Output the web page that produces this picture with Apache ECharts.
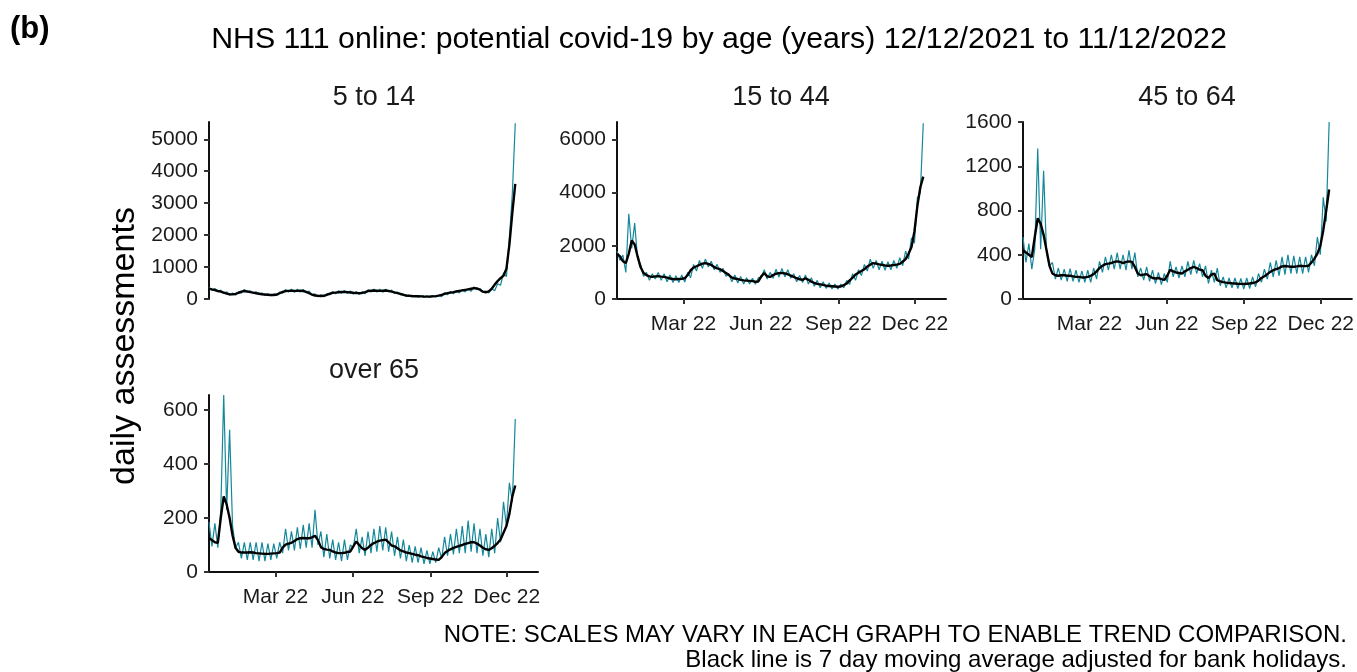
<!DOCTYPE html>
<html>
<head>
<meta charset="utf-8">
<script src="https://cdn.jsdelivr.net/npm/echarts@6/dist/echarts.min.js"></script>
<style>
  html, body { margin: 0; padding: 0; background: #fff; }
  #chart { width: 1357px; height: 672px; }
</style>
</head>
<body>
<div id="chart"></div>
<script>
// days between stored points, first point = 12/12/2021, last = 11/12/2022
var STEP = 3.5;
var tickDays = [79, 171, 263, 354];
var tickLabels = ["Mar 22", "Jun 22", "Sep 22", "Dec 22"];
var panelNames = ["5 to 14", "15 to 44", "45 to 64", "over 65"];

// 5 to 14
var p1Daily = [
  360,270,330,230,280,170,230,120,190,120,
  230,180,300,200,260,170,230,140,190,110,
  170,100,160,110,220,180,300,220,310,210,
  310,220,300,200,250,130,160,70,130,70,
  170,130,240,160,260,180,270,170,250,150,
  230,140,230,160,290,220,310,220,310,210,
  310,220,280,170,220,130,160,80,120,60,
  110,60,100,55,100,55,105,60,120,70,
  200,130,240,160,260,190,290,220,330,240,
  380,290,330,220,250,190,320,260,480,430,
  820,700,1900,3300,5500
];
var p1Avg = [
  325,300,280,250,230,200,170,150,145,160,
  190,230,250,240,215,200,180,165,150,140,
  130,125,125,140,180,220,245,255,260,255,
  255,260,250,220,180,140,110,100,95,100,
  130,165,190,200,210,220,220,215,205,195,
  190,185,190,215,250,260,265,260,255,260,
  265,255,230,205,185,160,130,110,100,92,
  88,85,82,78,75,78,82,90,105,130,
  160,185,200,215,235,255,270,285,300,320,
  340,330,290,230,210,240,320,450,560,650,
  730,950,1700,2700,3600
];

// 15 to 44
var p2Daily = [
  1800,1450,1650,1000,3200,1900,2850,1500,1300,850,
  1000,700,950,750,1000,700,950,650,900,620,
  870,620,900,640,1000,800,1300,1050,1450,1150,
  1500,1200,1420,1100,1300,1000,1150,850,950,650,
  900,600,850,560,800,560,780,550,800,800,
  1100,750,1000,780,1120,820,1150,830,1100,780,
  950,650,880,620,900,560,800,480,700,420,
  650,400,600,380,560,370,560,420,700,550,
  950,700,1100,880,1300,1050,1500,1150,1450,1100,
  1420,1080,1400,1100,1450,1150,1550,1250,1800,1500,
  2300,2100,3800,4000,6600
];
var p2Avg = [
  1700,1600,1420,1350,1700,2200,2050,1600,1200,980,
  900,850,830,850,860,840,830,800,770,750,
  740,750,760,780,900,1080,1180,1230,1280,1330,
  1350,1320,1280,1200,1150,1120,1050,980,900,800,
  770,750,720,700,690,680,670,650,660,850,
  980,850,830,900,950,970,980,960,930,880,
  830,780,740,720,780,720,650,600,570,550,
  530,500,490,480,470,460,470,520,580,700,
  800,920,990,1050,1120,1220,1290,1350,1330,1300,
  1280,1260,1250,1260,1280,1290,1320,1400,1500,1700,
  1950,2550,3500,4200,4600
];

// 45 to 64
var p3Daily = [
  560,330,500,270,450,1360,450,1160,420,300,
  330,180,280,170,270,160,275,160,260,150,
  255,150,260,150,280,180,340,240,380,260,
  400,270,420,270,400,260,440,270,420,200,
  280,170,290,160,260,140,240,130,230,150,
  340,200,290,190,300,200,340,220,350,230,
  320,200,300,140,260,150,280,120,200,100,
  190,100,190,95,185,90,190,95,200,110,
  230,150,270,180,330,200,350,210,380,220,
  400,230,390,230,380,230,380,240,400,300,
  560,400,920,700,1600
];
var p3Avg = [
  440,420,400,380,560,730,680,580,440,300,
  230,215,210,215,215,210,210,205,200,200,
  195,195,200,210,225,250,280,300,315,320,
  325,335,340,335,325,335,340,335,290,230,
  215,220,225,205,190,185,190,180,172,210,
  265,250,240,235,230,250,265,280,290,280,
  265,260,210,190,220,230,170,160,152,148,
  145,142,140,138,137,136,138,140,145,150,
  165,190,205,225,245,260,270,280,295,298,
  295,292,292,295,300,298,297,300,330,365,
  410,480,620,800,990
];

// over 65
var p4Daily = [
  185,95,180,90,230,655,230,526,170,90,
  110,50,110,45,110,45,110,40,110,40,
  105,45,105,50,110,70,160,80,150,80,
  165,85,175,90,180,90,230,100,150,55,
  140,50,120,45,110,40,120,45,100,90,
  160,70,130,60,150,70,160,75,170,80,
  165,75,150,60,130,50,120,40,100,35,
  95,35,90,30,80,30,75,35,90,50,
  130,60,140,65,160,70,170,70,190,75,
  180,70,160,60,140,55,160,70,200,110,
  260,170,330,260,566
];
var p4Avg = [
  126,118,110,108,200,280,250,200,135,90,
  75,72,72,72,73,72,70,69,68,67,
  67,68,69,70,72,90,101,105,108,115,
  122,125,126,125,125,128,134,118,92,85,
  83,82,76,72,70,70,71,74,76,95,
  113,100,88,82,90,100,107,112,116,118,
  120,110,98,95,88,80,76,72,70,67,
  64,62,58,55,52,50,48,46,45,55,
  70,78,84,89,93,97,100,104,107,110,
  110,105,98,90,84,82,88,97,107,120,
  145,170,215,280,320
];

var dailyData = [p1Daily, p2Daily, p3Daily, p4Daily];
var avgData = [p1Avg, p2Avg, p3Avg, p4Avg];
var yMax = [5540, 6650, 1600, 655];
var yStep = [1000, 2000, 400, 200];

var FONT = "Liberation Sans, Arial, sans-serif";
var TEAL = "#14889a";

var grids = [
  { left: 209, top: 122, width: 329, height: 177 },
  { left: 617, top: 122, width: 329, height: 177 },
  { left: 1023, top: 122, width: 329, height: 177 },
  { left: 209, top: 395, width: 329, height: 177 }
];
var titlePos = [[374, 98], [781, 98], [1187, 98], [374, 371]];

function toPoints(arr) {
  return arr.map(function (v, i) { return [i * STEP, v]; });
}

var xAxes = [], yAxes = [], series = [], graphics = [];
grids.forEach(function (g, k) {
  xAxes.push({
    type: "value", gridIndex: k, min: 0, max: 391,
    show: k !== 0,
    splitLine: { show: false },
    axisLine: { lineStyle: { color: "#111", width: 2 } },
    axisTick: { customValues: tickDays, length: 5, lineStyle: { color: "#333", width: 2 } },
    axisLabel: {
      customValues: tickDays, margin: 15, fontSize: 21, color: "#1a1a1a", fontFamily: FONT,
      formatter: function (v) { return tickLabels[tickDays.indexOf(v)] || ""; }
    }
  });
  yAxes.push({
    type: "value", gridIndex: k, min: 0, max: yMax[k], interval: yStep[k],
    splitLine: { show: false },
    axisLine: { show: true, lineStyle: { color: "#111", width: 2 } },
    axisTick: { show: true, length: 5, lineStyle: { color: "#333", width: 2 } },
    axisLabel: {
      margin: 11, fontSize: 21, color: "#1a1a1a", fontFamily: FONT,
      showMaxLabel: yMax[k] % yStep[k] === 0,
      formatter: function (v) { return String(v); }
    }
  });
  series.push({
    type: "line", xAxisIndex: k, yAxisIndex: k, data: toPoints(dailyData[k]),
    symbol: "none", lineStyle: { color: TEAL, width: 1.2 }, z: 2
  });
  series.push({
    type: "line", xAxisIndex: k, yAxisIndex: k, data: toPoints(avgData[k]),
    symbol: "none", lineStyle: { color: "#000", width: 2.4 }, z: 3
  });
  graphics.push({
    type: "text", x: titlePos[k][0], y: titlePos[k][1],
    style: { text: panelNames[k], font: "27px " + FONT, fill: "#1a1a1a",
      align: "center", verticalAlign: "middle", textAlign: "center", textVerticalAlign: "middle" }
  });
});

graphics.push(
  { type: "text", x: 10, y: 29,
    style: { text: "(b)", font: "bold 31px " + FONT, fill: "#000", align: "left", verticalAlign: "middle", textAlign: "left", textVerticalAlign: "middle" } },
  { type: "text", x: 719, y: 40,
    style: { text: "NHS 111 online: potential covid-19 by age (years) 12/12/2021 to 11/12/2022", font: "30.3px " + FONT, fill: "#000", align: "center", verticalAlign: "middle", textAlign: "center", textVerticalAlign: "middle" } },
  { type: "text", x: 125, y: 346, rotation: Math.PI / 2,
    style: { text: "daily assessments", font: "34px " + FONT, fill: "#000", align: "center", verticalAlign: "middle", textAlign: "center", textVerticalAlign: "middle" } },
  { type: "text", x: 1347, y: 635,
    style: { text: "NOTE: SCALES MAY VARY IN EACH GRAPH TO ENABLE TREND COMPARISON.", font: "24px " + FONT, fill: "#000", align: "right", verticalAlign: "middle", textAlign: "right", textVerticalAlign: "middle" } },
  { type: "text", x: 1347, y: 660,
    style: { text: "Black line is 7 day moving average adjusted for bank holidays.", font: "24px " + FONT, fill: "#000", align: "right", verticalAlign: "middle", textAlign: "right", textVerticalAlign: "middle" } }
);

var myChart = echarts.init(document.getElementById("chart"), null, { renderer: "canvas" });
myChart.setOption({
  animation: false,
  backgroundColor: "#fff",
  grid: grids,
  xAxis: xAxes,
  yAxis: yAxes,
  series: series,
  graphic: graphics
});
window.addEventListener("resize", myChart.resize);
</script>
</body>
</html>
